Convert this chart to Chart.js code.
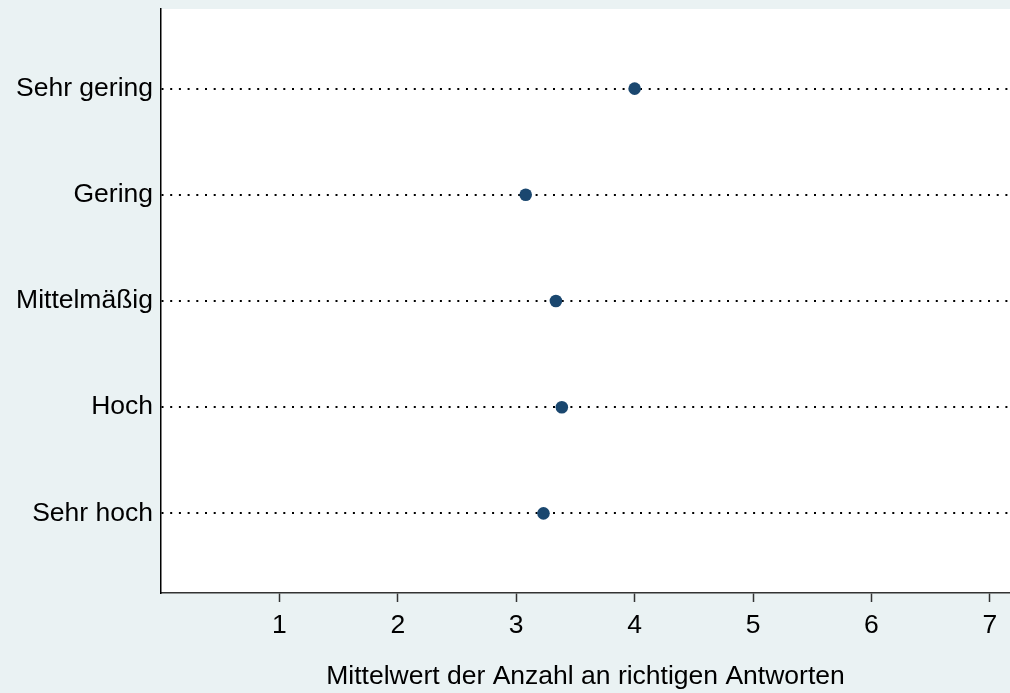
<!DOCTYPE html>
<html>
<head>
<meta charset="utf-8">
<script src="https://cdn.jsdelivr.net/npm/chart.js@4"></script>
<style>
    html, body { margin: 0; padding: 0; background: #eaf2f3; }
    #wrap { width: 1010px; height: 693px; }
</style>
</head>
<body>
<div id="wrap"><canvas id="chart" width="1010" height="693"></canvas></div>
<script>
// Kategorien (von oben nach unten) und Mittelwerte
const categories = ['Sehr gering', 'Gering', 'Mittelmäßig', 'Hoch', 'Sehr hoch'];
const meanValues = [4.0, 3.08, 3.335, 3.385, 3.23];
const xTicks = [1, 2, 3, 4, 5, 6, 7];
const xTitle = 'Mittelwert der Anzahl an richtigen Antworten';

const FONT = "'Liberation Sans', Arial, sans-serif";
const FSIZE = 26.5;

// Hintergrund: aussen grau-blau, Plotbereich weiss
const bgPlugin = {
    id: 'bgPlugin',
    beforeDraw(chart) {
        const ctx = chart.ctx;
        const a = chart.chartArea;
        ctx.save();
        ctx.fillStyle = '#eaf2f3';
        ctx.fillRect(0, 0, chart.width, chart.height);
        ctx.fillStyle = '#ffffff';
        ctx.fillRect(a.left, a.top, a.right - a.left, a.bottom - a.top);
        ctx.restore();
    }
};

const points = meanValues.map((v, i) => ({ x: v, y: i + 1 }));

new Chart(document.getElementById('chart'), {
    type: 'scatter',
    data: {
        datasets: [{
            data: points,
            pointRadius: 6.3,
            pointHoverRadius: 6.3,
            pointBackgroundColor: '#1a476f',
            pointBorderColor: '#1a476f',
            pointBorderWidth: 0
        }]
    },
    options: {
        responsive: false,
        animation: false,
        layout: { autoPadding: false, padding: { top: 9, right: 0, left: 0, bottom: 0 } },
        plugins: {
            legend: { display: false },
            tooltip: { enabled: false }
        },
        scales: {
            x: {
                type: 'linear',
                min: 0,
                max: 7.17,
                afterBuildTicks: function(scale) {
                    scale.ticks = xTicks.map(v => ({ value: v }));
                },
                afterFit: function(scale) {
                    scale.height = 100;
                    scale.paddingLeft = 0;
                    scale.paddingRight = 0;
                },
                grid: {
                    display: true,
                    drawOnChartArea: false,
                    drawTicks: true,
                    tickLength: 9,
                    tickWidth: 1.5,
                    tickColor: '#333333'
                },
                border: { display: true, color: '#333333', width: 1.5 },
                ticks: {
                    color: '#000000',
                    padding: 8,
                    font: { family: FONT, size: FSIZE },
                    maxRotation: 0,
                    callback: v => String(v)
                },
                title: {
                    display: true,
                    text: xTitle,
                    color: '#000000',
                    font: { family: FONT, size: FSIZE },
                    padding: { top: 13, bottom: 0 }
                }
            },
            y: {
                type: 'linear',
                reverse: true,
                min: 0.25,
                max: 5.75,
                afterBuildTicks: function(scale) {
                    scale.ticks = categories.map((c, i) => ({ value: i + 1 }));
                },
                afterFit: function(scale) {
                    scale.width = 161;
                    scale.paddingTop = 0;
                    scale.paddingBottom = 0;
                },
                grid: {
                    display: true,
                    drawTicks: false,
                    color: '#000000',
                    lineWidth: 2
                },
                border: { display: true, color: '#000000', width: 1.5, dash: [2, 6.7] },
                ticks: {
                    color: '#000000',
                    padding: 8,
                    font: { family: FONT, size: FSIZE },
                    callback: function(value) {
                        return categories[Math.round(value) - 1] || '';
                    }
                }
            }
        }
    },
    plugins: [bgPlugin]
});
</script>
</body>
</html>
